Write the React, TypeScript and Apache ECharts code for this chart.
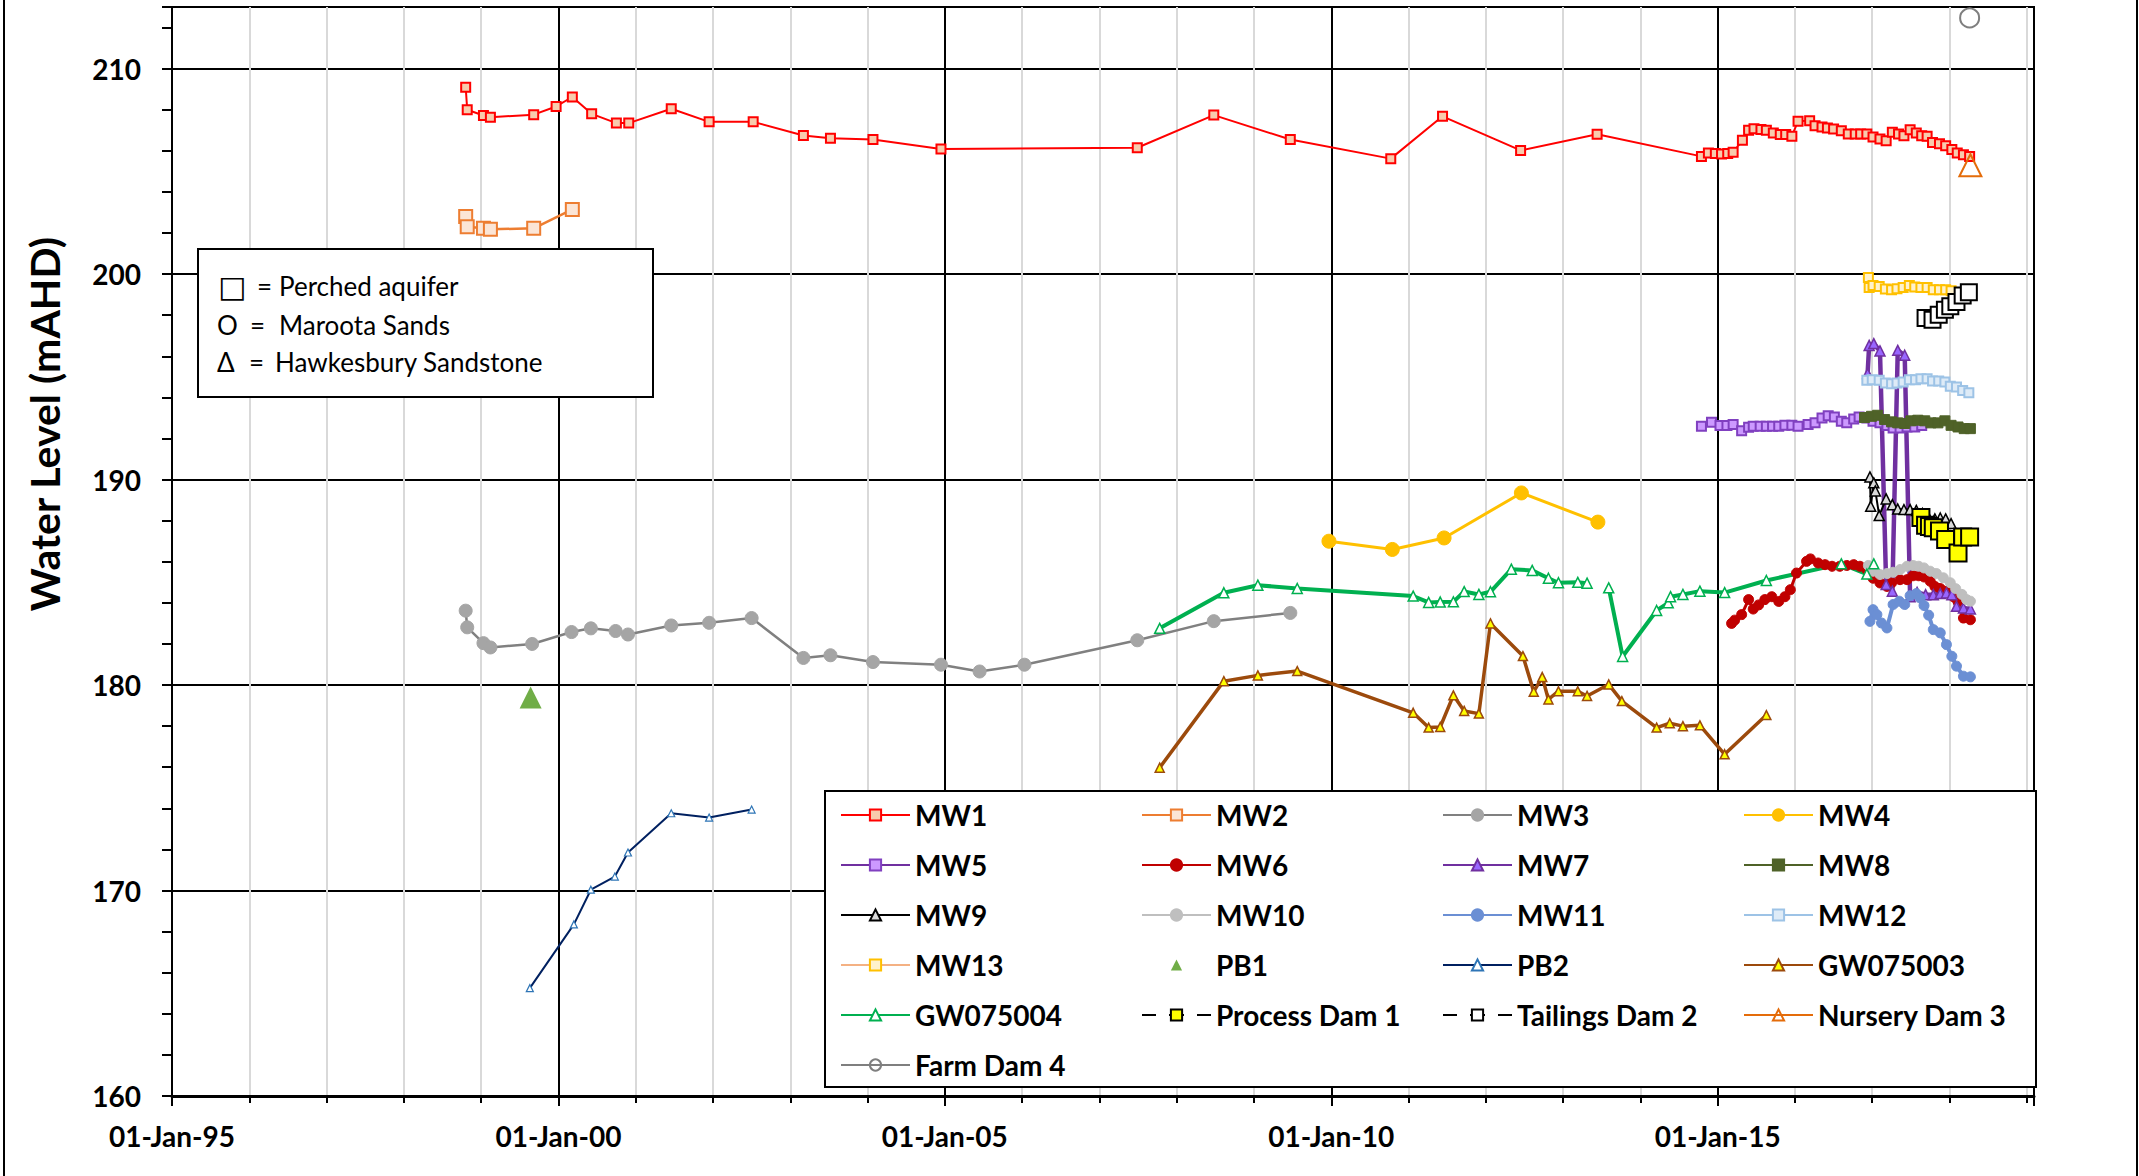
import React, { useEffect, useRef } from 'react';
import * as echarts from 'echarts';

// x values are decimal years (axis runs 01-Jan-95 .. early Feb 2019)
type P = [number, number | string];

const MW1: P[] = [
  [1998.8, 209.1], [1998.82, 208.0], [1999.03, 207.72], [1999.12, 207.64], [1999.68, 207.76],
  [1999.97, 208.16], [2000.18, 208.62], [2000.43, 207.8], [2000.75, 207.35], [2000.91, 207.35],
  [2001.46, 208.05], [2001.95, 207.41], [2002.52, 207.41], [2003.17, 206.75], [2003.52, 206.61],
  [2004.07, 206.55], [2004.95, 206.09], [2007.49, 206.15], [2008.48, 207.74], [2009.47, 206.55],
  [2010.77, 205.62], [2011.44, 207.68], [2012.45, 206.02], [2013.44, 206.81],
  [2014.79, 205.73], [2014.88, 205.9], [2014.97, 205.87], [2015.05, 205.85], [2015.13, 205.87],
  [2015.2, 205.93], [2015.32, 206.52], [2015.4, 207.0], [2015.47, 207.07], [2015.56, 207.04],
  [2015.63, 207.0], [2015.72, 206.87], [2015.81, 206.79], [2015.88, 206.79], [2015.96, 206.71],
  [2016.04, 207.44], [2016.19, 207.47], [2016.26, 207.22], [2016.35, 207.16], [2016.42, 207.11],
  [2016.5, 207.06], [2016.6, 206.98], [2016.69, 206.82], [2016.78, 206.82], [2016.85, 206.82],
  [2016.93, 206.82], [2017.01, 206.67], [2017.1, 206.57], [2017.18, 206.49], [2017.26, 206.9],
  [2017.34, 206.82], [2017.41, 206.74], [2017.49, 207.03], [2017.57, 206.87], [2017.64, 206.74],
  [2017.71, 206.71], [2017.78, 206.41], [2017.87, 206.35], [2017.95, 206.25], [2018.03, 206.06],
  [2018.1, 205.9], [2018.18, 205.81], [2018.26, 205.73],
];
const MW2: P[] = [
  [1998.8, 202.8], [1998.82, 202.31], [1999.03, 202.23], [1999.12, 202.18], [1999.68, 202.23], [2000.18, 203.15],
];
const MW3: P[] = [
  [1998.8, 183.62], [1998.82, 182.81], [1999.03, 182.04], [1999.12, 181.83], [1999.66, 182.0],
  [2000.17, 182.58], [2000.42, 182.76], [2000.74, 182.63], [2000.9, 182.46], [2001.46, 182.9],
  [2001.95, 183.03], [2002.5, 183.26], [2003.17, 181.32], [2003.52, 181.45], [2004.07, 181.12],
  [2004.95, 180.99], [2005.45, 180.66], [2006.03, 180.99], [2007.49, 182.18], [2008.48, 183.11],
  [2009.47, 183.51],
];
const MW4: P[] = [
  [2009.97, 187.0], [2010.79, 186.6], [2011.46, 187.16], [2012.46, 189.35], [2013.45, 187.93],
];
const MW5: P[] = [
  [2014.79, 192.6], [2014.92, 192.79], [2015.03, 192.63], [2015.12, 192.63], [2015.2, 192.68],
  [2015.31, 192.38], [2015.4, 192.55], [2015.46, 192.6], [2015.55, 192.6], [2015.63, 192.6],
  [2015.71, 192.6], [2015.79, 192.6], [2015.87, 192.64], [2015.96, 192.64], [2016.04, 192.6],
  [2016.17, 192.68], [2016.26, 192.76], [2016.35, 193.0], [2016.43, 193.11], [2016.51, 193.05],
  [2016.6, 192.84], [2016.67, 192.76], [2016.76, 192.95], [2016.83, 193.05], [2016.93, 193.0],
  [2017.01, 192.84], [2017.1, 192.76], [2017.19, 192.63], [2017.27, 192.51], [2017.36, 192.51],
  [2017.45, 192.56], [2017.55, 192.56], [2017.64, 192.63],
];
const MW6: P[] = [
  [2015.18, 183.0], [2015.22, 183.16], [2015.31, 183.43], [2015.4, 184.16], [2015.46, 183.7],
  [2015.53, 183.9], [2015.61, 184.16], [2015.7, 184.3], [2015.79, 184.07], [2015.87, 184.3],
  [2015.94, 184.64], [2016.02, 185.45], [2016.15, 186.02], [2016.2, 186.14], [2016.3, 185.94],
  [2016.39, 185.86], [2016.48, 185.78], [2016.58, 185.78], [2016.67, 185.82], [2016.76, 185.86],
  [2016.84, 185.78], [2016.93, 185.62], [2017.01, 185.2], [2017.1, 184.97], [2017.19, 184.8],
  [2017.25, 184.97], [2017.36, 185.13], [2017.45, 185.13], [2017.53, 185.32], [2017.6, 185.32],
  [2017.67, 185.26], [2017.75, 185.05], [2017.81, 184.8], [2017.88, 184.7], [2017.96, 184.56],
  [2018.05, 184.3], [2018.11, 184.07], [2018.18, 183.26], [2018.27, 183.18],
];
const MW7: P[] = [
  [2016.94, 195.16], [2016.96, 196.53], [2017.02, 196.62], [2017.1, 196.26], [2017.18, 184.89],
  [2017.26, 184.57], [2017.33, 196.29], [2017.42, 196.05], [2017.49, 184.3], [2017.58, 184.51],
  [2017.69, 184.4], [2017.79, 184.4], [2017.88, 184.45], [2017.96, 184.48], [2018.03, 184.4],
  [2018.09, 183.83], [2018.18, 183.75], [2018.27, 183.7],
];
const MW8: P[] = [
  [2016.9, 193.02], [2016.99, 193.08], [2017.07, 193.13], [2017.16, 192.92], [2017.25, 192.81],
  [2017.33, 192.76], [2017.42, 192.73], [2017.5, 192.86], [2017.59, 192.89], [2017.68, 192.86],
  [2017.76, 192.76], [2017.85, 192.76], [2017.94, 192.86], [2018.02, 192.64], [2018.11, 192.56],
  [2018.19, 192.48], [2018.27, 192.48],
];
const MW9: P[] = [
  [2016.97, 190.13], [2016.98, 188.7], [2017.02, 189.84], [2017.04, 189.45], [2017.09, 188.25],
  [2017.18, 189.06], [2017.26, 188.78], [2017.33, 188.57], [2017.41, 188.54], [2017.49, 188.54],
  [2017.57, 188.5], [2017.65, 188.35], [2017.73, 188.15], [2017.81, 188.09], [2017.88, 188.13],
  [2017.95, 188.09], [2018.02, 187.86],
];
const MW10: P[] = [
  [2016.95, 185.82], [2017.01, 185.54], [2017.1, 185.38], [2017.19, 185.43], [2017.27, 185.49],
  [2017.36, 185.62], [2017.45, 185.78], [2017.53, 185.82], [2017.6, 185.78], [2017.67, 185.7],
  [2017.75, 185.54], [2017.83, 185.43], [2017.92, 185.22], [2018.01, 184.98], [2018.08, 184.69],
  [2018.16, 184.41], [2018.22, 184.16], [2018.27, 184.08],
];
const MW11: P[] = [
  [2016.97, 183.1], [2017.01, 183.67], [2017.06, 183.43], [2017.12, 183.02], [2017.19, 182.78],
  [2017.27, 183.92], [2017.35, 184.08], [2017.42, 183.92], [2017.49, 184.35], [2017.57, 184.45],
  [2017.62, 184.24], [2017.67, 183.87], [2017.73, 183.4], [2017.79, 182.7], [2017.88, 182.54],
  [2017.96, 181.97], [2018.03, 181.4], [2018.09, 180.92], [2018.18, 180.43], [2018.27, 180.4],
];
const MW12: P[] = [
  [2016.93, 194.83], [2017.0, 194.86], [2017.09, 194.83], [2017.17, 194.7], [2017.25, 194.67],
  [2017.32, 194.7], [2017.4, 194.75], [2017.48, 194.86], [2017.56, 194.86], [2017.63, 194.91],
  [2017.71, 194.91], [2017.78, 194.8], [2017.86, 194.8], [2017.94, 194.75], [2018.01, 194.54],
  [2018.09, 194.51], [2018.17, 194.34], [2018.25, 194.23],
];
const MW13: P[] = [
  [2016.95, 199.84], [2016.96, 199.35], [2017.01, 199.45], [2017.09, 199.4], [2017.17, 199.27],
  [2017.25, 199.24], [2017.32, 199.29], [2017.4, 199.35], [2017.48, 199.45], [2017.55, 199.37],
  [2017.63, 199.35], [2017.71, 199.35], [2017.79, 199.24], [2017.87, 199.24], [2017.95, 199.24],
  [2018.02, 199.19],
];
const PB1: P[] = [[1999.64, 179.4]];
const PB2: P[] = [
  [1999.63, 165.25], [2000.2, 168.35], [2000.42, 170.04], [2000.73, 170.68], [2000.9, 171.85],
  [2001.46, 173.76], [2001.95, 173.55], [2002.5, 173.94],
];
const GW075003: P[] = [
  [2007.78, 175.98], [2008.61, 180.19], [2009.05, 180.47], [2009.56, 180.68], [2011.06, 178.65],
  [2011.26, 177.93], [2011.41, 177.96], [2011.58, 179.5], [2011.72, 178.74], [2011.91, 178.61],
  [2012.06, 183.0], [2012.48, 181.41], [2012.62, 179.68], [2012.73, 180.39], [2012.81, 179.3],
  [2012.94, 179.7], [2013.19, 179.7], [2013.31, 179.47], [2013.59, 180.03], [2013.76, 179.22],
  [2014.21, 177.93], [2014.38, 178.14], [2014.55, 178.0], [2014.77, 178.04], [2015.09, 176.63],
  [2015.63, 178.54],
];
const GW075004: P[] = [
  [2007.78, 182.76], [2008.61, 184.49], [2009.05, 184.86], [2009.56, 184.7], [2011.06, 184.33],
  [2011.26, 184.02], [2011.41, 184.04], [2011.58, 184.05], [2011.72, 184.55], [2011.91, 184.41],
  [2012.06, 184.54], [2012.33, 185.64], [2012.6, 185.58], [2012.81, 185.2], [2012.94, 184.98],
  [2013.19, 185.0], [2013.31, 184.96], [2013.45, '-'], [2013.59, 184.73], [2013.77, 181.39],
  [2014.21, 183.63], [2014.36, 184.0], [2014.39, 184.3], [2014.55, 184.41], [2014.77, 184.57],
  [2015.09, 184.5], [2015.63, 185.09], [2016.6, 185.9], [2016.93, 185.4], [2017.02, 185.9],
];
const PROCESS_DAM_1: P[] = [
  [2017.63, 188.15], [2017.69, 187.78], [2017.74, 187.72], [2017.79, 187.65], [2017.87, 187.5],
  [2017.95, 187.08], [2018.11, 186.43], [2018.17, 187.2], [2018.26, 187.2],
];
const TAILINGS_DAM_2: P[] = [
  [2017.69, 197.86], [2017.78, 197.78], [2017.86, 198.02], [2017.94, 198.26], [2018.01, 198.43],
  [2018.09, 198.64], [2018.17, 198.96], [2018.25, 199.12],
];
const NURSERY_DAM_3: P[] = [[2018.27, 205.3]];
const FARM_DAM_4: P[] = [[2018.26, 212.47]];

const X_MIN = 1995;
const X_MAX = 2019.093;
const Y_MIN = 160;
const Y_MAX = 213;
const Y_TITLE = 'Water Level (mAHD)';
const KEY_LINES = [
  ['□', '=', 'Perched aquifer'],
  ['O', '=', 'Maroota Sands'],
  ['Δ', '=', 'Hawkesbury Sandstone'],
];
const LEGEND_COLUMNS = [
  ['MW1', 'MW5', 'MW9', 'MW13', 'GW075004', 'Farm Dam 4'],
  ['MW2', 'MW6', 'MW10', 'PB1', 'Process Dam 1'],
  ['MW3', 'MW7', 'MW11', 'PB2', 'Tailings Dam 2'],
  ['MW4', 'MW8', 'MW12', 'GW075003', 'Nursery Dam 3'],
];

const FONT = 'Lato, "Noto Sans", sans-serif';

interface St {
  symbol: string; size: number; line: string; lw: number; fill: string; border: string; bw: number;
  dash?: boolean; noLine?: boolean;
}

function mk(name: string, data: P[], s: St) {
  return {
    name,
    type: 'line',
    data,
    xAxisIndex: 1,
    yAxisIndex: 0,
    symbol: s.symbol,
    symbolSize: s.size,
    showSymbol: true,
    showAllSymbol: true,
    connectNulls: false,
    lineStyle: { color: s.line, width: s.lw, type: s.dash ? [14, 13, 15, 13, 14] : 'solid', opacity: s.noLine ? 0 : 1 },
    itemStyle: { color: s.fill, borderColor: s.border, borderWidth: s.bw },
    emphasis: { disabled: true },
    silent: true,
  };
}

const SERIES = [
  mk('MW1', MW1, { symbol: 'rect', size: 9, line: '#FF0000', lw: 2, fill: '#F8CBAD', border: '#FF0000', bw: 2 }),
  mk('MW2', MW2, { symbol: 'rect', size: 13, line: '#ED7D31', lw: 2.5, fill: '#FBE5D6', border: '#ED7D31', bw: 2 }),
  mk('MW3', MW3, { symbol: 'circle', size: 13, line: '#808080', lw: 2.5, fill: '#A5A5A5', border: '#A5A5A5', bw: 1 }),
  mk('MW4', MW4, { symbol: 'circle', size: 14, line: '#FFC000', lw: 3, fill: '#FFC000', border: '#FFC000', bw: 1 }),
  mk('MW5', MW5, { symbol: 'rect', size: 9, line: '#7030A0', lw: 3.5, fill: '#CC99FF', border: '#8040C0', bw: 2 }),
  mk('MW6', MW6, { symbol: 'circle', size: 10, line: '#C00000', lw: 3, fill: '#C00000', border: '#C00000', bw: 1 }),
  mk('MW7', MW7, { symbol: 'triangle', size: 10, line: '#7030A0', lw: 4.5, fill: '#9966FF', border: '#7030A0', bw: 1.5 }),
  mk('MW8', MW8, { symbol: 'rect', size: 10, line: '#4F6228', lw: 4, fill: '#4F6228', border: '#4F6228', bw: 1 }),
  mk('MW9', MW9, { symbol: 'triangle', size: 10, line: '#000000', lw: 2, fill: '#D9D9D9', border: '#000000', bw: 1.5 }),
  mk('MW10', MW10, { symbol: 'circle', size: 10, line: '#BFBFBF', lw: 4.5, fill: '#BFBFBF', border: '#BFBFBF', bw: 1 }),
  mk('MW11', MW11, { symbol: 'circle', size: 10, line: '#6B8FD4', lw: 4, fill: '#6B8FD4', border: '#6B8FD4', bw: 1 }),
  mk('MW12', MW12, { symbol: 'rect', size: 9, line: '#9DC3E6', lw: 3, fill: '#DEEBF7', border: '#9DC3E6', bw: 2 }),
  mk('MW13', MW13, { symbol: 'rect', size: 9, line: '#F4B183', lw: 3, fill: '#FFF2CC', border: '#FFC000', bw: 2 }),
  mk('PB1', PB1, { symbol: 'triangle', size: 22, line: '#70AD47', lw: 0, fill: '#70AD47', border: '#70AD47', bw: 0, noLine: true }),
  mk('PB2', PB2, { symbol: 'triangle', size: 7, line: '#002060', lw: 2, fill: '#FFFFFF', border: '#2E75B6', bw: 1.2 }),
  mk('GW075003', GW075003, { symbol: 'triangle', size: 9, line: '#9C4A0C', lw: 3.5, fill: '#FFFF00', border: '#9C4A0C', bw: 1.5 }),
  mk('GW075004', GW075004, { symbol: 'triangle', size: 10, line: '#00B050', lw: 4, fill: '#FFFFFF', border: '#00B050', bw: 1.5 }),
  mk('Process Dam 1', PROCESS_DAM_1, { symbol: 'rect', size: 17, line: '#000000', lw: 4, fill: '#FFFF00', border: '#000000', bw: 2, dash: true }),
  mk('Tailings Dam 2', TAILINGS_DAM_2, { symbol: 'rect', size: 16, line: '#000000', lw: 4, fill: '#FFFFFF', border: '#000000', bw: 2, dash: true }),
  mk('Nursery Dam 3', NURSERY_DAM_3, { symbol: 'triangle', size: 22, line: '#E46C0A', lw: 3, fill: 'rgba(255,255,255,0)', border: '#E46C0A', bw: 2 }),
  mk('Farm Dam 4', FARM_DAM_4, { symbol: 'circle', size: 19, line: '#7F7F7F', lw: 3, fill: 'rgba(255,255,255,0)', border: '#7F7F7F', bw: 2 }),
];

function buildOption() {
  const legends = LEGEND_COLUMNS.map((names, i) => ({
    data: names,
    orient: 'vertical',
    left: 840 + i * 301,
    top: 800,
    padding: 0,
    itemWidth: 69,
    itemHeight: 14,
    itemGap: 20,
    selectedMode: false,
    z: 6,
    textStyle: { fontFamily: FONT, fontWeight: 'bold', fontSize: 28, color: '#000', lineHeight: 30 },
  }));

  const keyTexts: any[] = [];
  const ys = [286, 325, 362];
  const xs = [[218, 257, 279], [217, 250, 279], [217, 249, 275]];
  KEY_LINES.forEach((parts, r) => {
    parts.forEach((t, c) => {
      keyTexts.push({
        type: 'text', x: xs[r][c], y: ys[r], z: 5,
        style: {
          text: t, fontFamily: c === 0 && r === 0 ? '"DejaVu Sans", sans-serif' : FONT,
          fontSize: c === 0 && r === 0 ? 30 : 26, fill: '#000', textAlign: 'left', textVerticalAlign: 'middle',
        },
      });
    });
  });

  return {
    animation: false,
    backgroundColor: '#FFFFFF',
    grid: {
      left: 172, right: 105, top: 7, bottom: 80,
      show: true, borderColor: '#000', borderWidth: 2, backgroundColor: 'transparent',
      outerBoundsMode: 'none',
    },
    xAxis: [
      {
        type: 'value', min: X_MIN, max: X_MAX, interval: 1, position: 'bottom',
        axisLine: { show: false },
        axisTick: { show: true, length: 7, lineStyle: { color: '#000', width: 2 } },
        axisLabel: { show: false },
        splitLine: { show: true, lineStyle: { color: '#D9D9D9', width: 2 } },
      },
      {
        type: 'value', min: X_MIN, max: X_MAX, interval: 5, position: 'bottom',
        axisLine: { show: true, onZero: false, lineStyle: { color: '#000', width: 3 } },
        axisTick: { show: true, length: 10, lineStyle: { color: '#000', width: 2 } },
        axisLabel: {
          show: true, margin: 26, fontFamily: FONT, fontWeight: 'bold', fontSize: 28, color: '#000',
          formatter: (v: number) => {
            const r = Math.round(v);
            if (Math.abs(v - r) > 1e-6 || r % 5 !== 0) return '';
            return '01-Jan-' + String(r % 100).padStart(2, '0');
          },
        },
        splitLine: { show: true, lineStyle: { color: '#000', width: 2 } },
      },
    ],
    yAxis: [
      {
        type: 'value', min: Y_MIN, max: Y_MAX, interval: 10, position: 'left',
        axisLine: { show: true, onZero: false, lineStyle: { color: '#000', width: 2 } },
        axisTick: { show: true, length: 10, lineStyle: { color: '#000', width: 2 } },
        axisLabel: {
          show: true, margin: 31, fontFamily: FONT, fontWeight: 'bold', fontSize: 28, color: '#000',
          formatter: (v: number) => (Math.abs(v % 10) < 1e-6 ? String(v) : ''),
        },
        splitLine: { show: true, lineStyle: { color: '#000', width: 2 } },
      },
      {
        type: 'value', min: Y_MIN, max: Y_MAX, interval: 2, position: 'left',
        axisLine: { show: false },
        axisTick: { show: true, length: 10, lineStyle: { color: '#000', width: 2 } },
        axisLabel: { show: false },
        splitLine: { show: false },
      },
    ],
    legend: legends,
    graphic: [
      { type: 'line', shape: { x1: 4, y1: 0, x2: 4, y2: 1176 }, style: { stroke: '#000', lineWidth: 2 }, z: 1 },
      { type: 'line', shape: { x1: 2137, y1: 0, x2: 2137, y2: 1176 }, style: { stroke: '#000', lineWidth: 2 }, z: 1 },
      {
        type: 'text', x: 44, y: 424, rotation: Math.PI / 2, z: 5,
        style: { text: Y_TITLE, fontFamily: FONT, fontWeight: 'bold', fontSize: 41, fill: '#000', textAlign: 'center', textVerticalAlign: 'middle' },
      },
      {
        type: 'rect', shape: { x: 825, y: 791, width: 1211, height: 296 }, z: 4,
        style: { fill: '#FFFFFF', stroke: '#000', lineWidth: 2 },
      },
      {
        type: 'rect', shape: { x: 198, y: 249, width: 455, height: 148 }, z: 4,
        style: { fill: '#FFFFFF', stroke: '#000', lineWidth: 2 },
      },
      ...keyTexts,
    ],
    series: SERIES,
  };
}

export default function App() {
  const ref = useRef<HTMLDivElement>(null);
  useEffect(() => {
    if (!ref.current) return;
    const chart = echarts.init(ref.current, null, { renderer: 'svg' });
    chart.setOption(buildOption() as any);
    return () => chart.dispose();
  }, []);
  return <div ref={ref} style={{ position: 'fixed', left: 0, top: 0, width: 2139, height: 1176 }} />;
}
